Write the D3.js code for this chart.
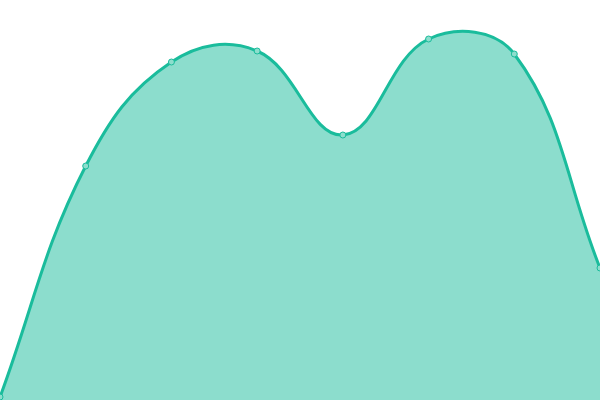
<!DOCTYPE html>
<html><head><meta charset="utf-8">
<script src="https://cdn.jsdelivr.net/npm/d3@7"></script>
<style>html,body{margin:0;padding:0;background:#fff;overflow:hidden}</style>
</head><body>
<svg id="c" width="600" height="400"></svg>
<script>
const categories = ["1","2","3","4","5","6","7","8"];
const values = [3, 234, 338, 349, 265, 361, 346, 132];

const W = 600, H = 400;
const svg = d3.select("#c");
const x = d3.scalePoint().domain(categories).range([0, W]);
const y = d3.scaleLinear().domain([0, 400]).range([H, 0]);
const data = categories.map((c, i) => ({c, v: values[i]}));

// spline curve with distance-weighted tension (same family as cardinal)
function SplineCurve(context, t) { this._context = context; this._t = t; }
SplineCurve.prototype = {
  areaStart() { this._line = 0; },
  areaEnd() { this._line = NaN; },
  lineStart() { this._pts = []; },
  point(px, py) { this._pts.push([+px, +py]); },
  lineEnd() {
    const p = this._pts, n = p.length, c = this._context, t = this._t;
    if (n) {
      if (this._line) c.lineTo(p[0][0], p[0][1]); else c.moveTo(p[0][0], p[0][1]);
      const cpPrev = [], cpNext = [];
      for (let i = 0; i < n; i++) {
        const pr = p[Math.max(0, i - 1)], cu = p[i], nx = p[Math.min(n - 1, i + 1)];
        const d01 = Math.hypot(cu[0] - pr[0], cu[1] - pr[1]);
        const d12 = Math.hypot(nx[0] - cu[0], nx[1] - cu[1]);
        let s01 = d01 / (d01 + d12), s12 = d12 / (d01 + d12);
        if (!isFinite(s01)) s01 = 0; if (!isFinite(s12)) s12 = 0;
        const fa = t * s01, fb = t * s12;
        cpPrev[i] = [cu[0] - fa * (nx[0] - pr[0]), cu[1] - fa * (nx[1] - pr[1])];
        cpNext[i] = [cu[0] + fb * (nx[0] - pr[0]), cu[1] + fb * (nx[1] - pr[1])];
      }
      for (let i = 1; i < n; i++) {
        c.bezierCurveTo(cpNext[i-1][0], cpNext[i-1][1], cpPrev[i][0], cpPrev[i][1], p[i][0], p[i][1]);
      }
    }
    if (this._line || (this._line !== 0 && n === 1)) c.closePath();
    this._line = 1 - this._line;
  }
};
const curve = ctx => new SplineCurve(ctx, 0.4);

svg.append("path").datum(data)
  .attr("d", d3.area().x(d => x(d.c)).y0(H).y1(d => y(d.v)).curve(curve))
  .attr("fill", "#1abc9c").attr("fill-opacity", 0.5);
svg.append("path").datum(data)
  .attr("d", d3.line().x(d => x(d.c)).y(d => y(d.v)).curve(curve))
  .attr("fill", "none").attr("stroke", "#1abc9c").attr("stroke-width", 3);
svg.selectAll("circle").data(data).enter().append("circle")
  .attr("cx", d => x(d.c)).attr("cy", d => y(d.v)).attr("r", 3)
  .attr("fill", "#8ddecd").attr("stroke", "#1abc9c").attr("stroke-width", 1);
</script>
</body></html>
